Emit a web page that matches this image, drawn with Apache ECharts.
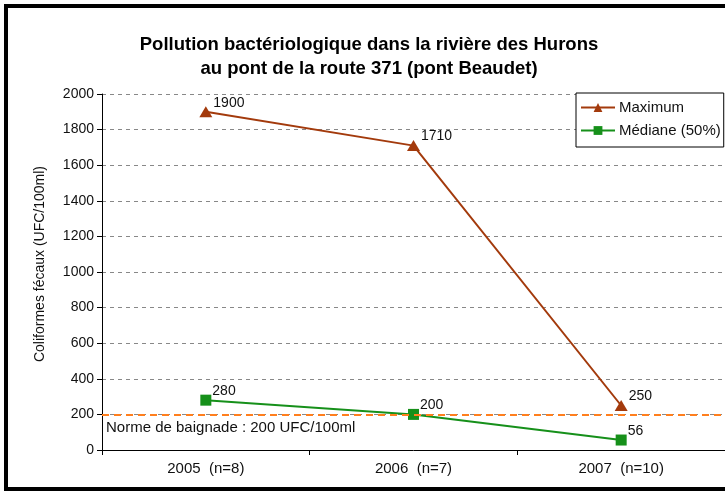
<!DOCTYPE html>
<html>
<head>
<meta charset="utf-8">
<script src="https://cdn.jsdelivr.net/npm/echarts@6/dist/echarts.min.js"></script>
<style>
  html, body { margin: 0; padding: 0; background: #fff; }
  #main { width: 725px; height: 492px; }
</style>
</head>
<body>
<div id="main"></div>
<script>
// données
const years = ['2005  (n=8)', '2006  (n=7)', '2007  (n=10)'];
const maximum = [1900, 1710, 250];
const mediane = [280, 200, 56];
const norme = 200;

const chart = echarts.init(document.getElementById('main'));
const txt = { fontFamily: 'Liberation Sans', fontSize: 14, color: '#111' };

chart.setOption({
    animation: false,
    backgroundColor: '#fff',
    title: {
        text: 'Pollution bactériologique dans la rivière des Hurons\nau pont de la route 371 (pont Beaudet)',
        left: 364,
        textAlign: 'center',
        top: 28,
        textStyle: {
            fontFamily: 'Liberation Sans',
            fontSize: 18.5,
            fontWeight: 'bold',
            color: '#000',
            lineHeight: 24
        }
    },
    graphic: [{
        type: 'rect',
        shape: { x: 6, y: 6, width: 800, height: 483 },
        style: { fill: 'none', stroke: '#000', lineWidth: 4 },
        silent: true
    }],
    legend: {
        orient: 'vertical',
        left: 576,
        top: 93,
        padding: [7, 3, 9, 4],
        itemGap: 8,
        itemWidth: 34,
        itemHeight: 11,
        borderColor: '#000',
        borderWidth: 1,
        backgroundColor: '#fff',
        textStyle: { fontFamily: 'Liberation Sans', fontSize: 15, color: '#111', padding: [0, 0, 0, -1] },
        data: ['Maximum', 'Médiane (50%)']
    },
    grid: { left: 102, top: 94, right: -1, bottom: 42 },
    xAxis: {
        type: 'category',
        data: years,
        boundaryGap: true,
        axisLine: { lineStyle: { color: '#000', width: 1 } },
        axisTick: { show: true, alignWithLabel: false, length: 5, lineStyle: { color: '#000' } },
        axisLabel: Object.assign({}, txt, { margin: 11, fontSize: 15 }),
        splitLine: { show: false }
    },
    yAxis: {
        type: 'value',
        min: 0,
        max: 2000,
        interval: 200,
        name: 'Coliformes fécaux (UFC/100ml)',
        nameLocation: 'middle',
        nameGap: 55,
        nameTextStyle: { fontFamily: 'Liberation Sans', fontSize: 14, color: '#111', padding: [0, 0, 0, 16] },
        axisLine: { show: true, lineStyle: { color: '#000', width: 1 } },
        axisTick: { show: true, length: 5, lineStyle: { color: '#000' } },
        axisLabel: Object.assign({ margin: 8, formatter: v => String(v) }, txt),
        splitLine: { lineStyle: { color: '#888', type: [4, 4], width: 1 } }
    },
    series: [
        {
            name: 'Maximum',
            type: 'line',
            data: maximum,
            symbol: 'triangle',
            symbolSize: [13, 11],
            color: '#a33a0c',
            lineStyle: { color: '#a33a0c', width: 2 },
            itemStyle: { color: '#a33a0c' },
            label: { show: true, position: 'right', offset: [-4, -9], ...txt },
            z: 3
        },
        {
            name: 'Médiane (50%)',
            type: 'line',
            data: mediane,
            symbol: 'rect',
            symbolSize: 11,
            color: '#16901a',
            lineStyle: { color: '#16901a', width: 2 },
            itemStyle: { color: '#16901a' },
            label: { show: true, position: 'right', offset: [-4, -9], ...txt },
            markLine: {
                silent: true,
                symbol: 'none',
                lineStyle: { color: '#ff7f1e', type: [7, 5], width: 2 },
                label: {
                    show: true,
                    position: 'insideStartBottom',
                    formatter: 'Norme de baignade : 200 UFC/100ml',
                    distance: [4, 6],
                    ...txt,
                    fontSize: 15
                },
                data: [{ yAxis: norme }]
            },
            z: 2
        }
    ]
});
</script>
</body>
</html>
